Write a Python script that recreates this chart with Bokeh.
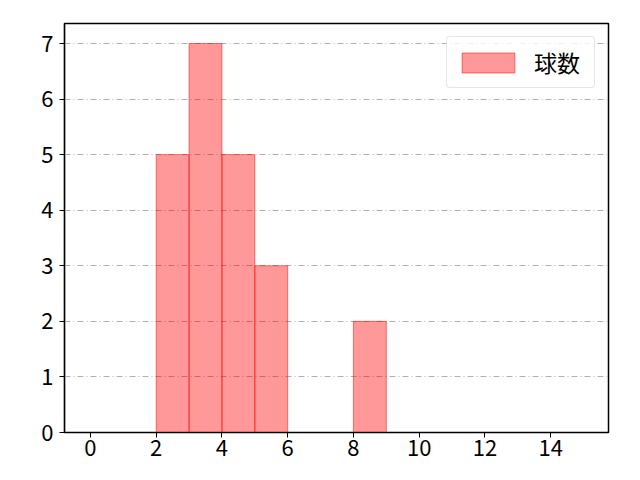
from bokeh.plotting import figure
from bokeh.models import ColumnDataSource, Range1d, FixedTicker, Legend, LegendItem
from bokeh.embed import file_html
from bokeh.resources import INLINE

# histogram of pitch counts
bin_left = [2, 3, 4, 5, 8]
bin_right = [3, 4, 5, 6, 9]
counts = [5, 7, 5, 3, 2]
series_name = "球数"
x_ticks = [0, 2, 4, 6, 8, 10, 12, 14]
y_ticks = [0, 1, 2, 3, 4, 5, 6, 7]

FONT = "Noto Sans CJK JP"

source = ColumnDataSource(dict(left=bin_left, right=bin_right, top=counts,
                               bottom=[0] * len(counts)))

p = figure(
    width=624,
    height=472,
    output_backend="svg",
    toolbar_location=None,
    x_range=Range1d(-0.79, 15.76),
    y_range=Range1d(0, 7.36),
    min_border_left=64,
    min_border_top=23,
    min_border_right=16,
    min_border_bottom=40,
)

r = p.quad(left="left", right="right", top="top", bottom="bottom", source=source,
           fill_color="#ff0000", fill_alpha=0.4,
           line_color="#ff0000", line_alpha=0.5, line_width=1)

p.xaxis.ticker = FixedTicker(ticks=x_ticks)
p.yaxis.ticker = FixedTicker(ticks=y_ticks)
for ax in (p.xaxis, p.yaxis):
    ax.major_label_text_font = FONT
    ax.major_label_text_font_size = "22px"
    ax.major_label_text_color = "#000000"
    ax.major_tick_in = 0
    ax.major_tick_out = 5
    ax.minor_tick_line_color = None
    ax.axis_line_color = "#000000"
    ax.major_tick_line_color = "#000000"
    ax.axis_line_width = 1.2
p.xaxis.major_label_standoff = 2
p.yaxis.major_label_standoff = 6

p.xgrid.grid_line_color = None
p.ygrid.grid_line_color = "#b0b0b0"
p.ygrid.grid_line_dash = "6 3 1 3"
p.ygrid.grid_line_width = 1

p.outline_line_color = "#000000"
p.outline_line_width = 1.5
p.outline_line_alpha = 1

# legend glyphs for areas are inset by 10% on each side
legend = Legend(items=[LegendItem(label=series_name, renderers=[r])],
                location="top_right")
legend.label_text_font = FONT
legend.label_text_font_size = "23px"
legend.label_text_color = "#000000"
legend.label_width = 52
legend.glyph_width = 66
legend.glyph_height = 25
legend.label_standoff = 13
legend.padding = 8
legend.margin = 13
legend.border_line_color = "#cccccc"
legend.border_line_width = 1
legend.border_radius = 4
legend.background_fill_alpha = 0.8
p.add_layout(legend)

open("out.html", "w").write(file_html(p, INLINE))
